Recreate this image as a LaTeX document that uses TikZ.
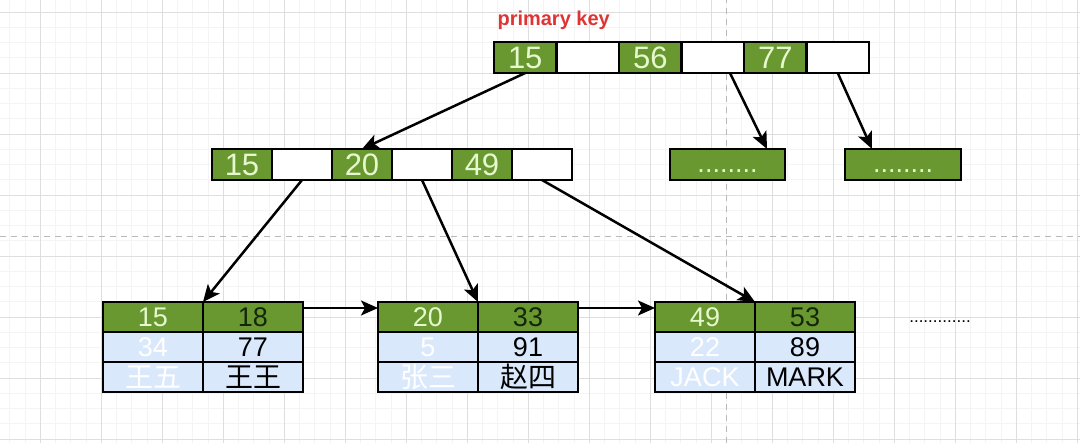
\documentclass[tikz,border=0pt]{standalone}
\usepackage{fontspec}
\setmainfont{Liberation Sans}
\newfontfamily\cjk{Noto Sans CJK SC}
\usetikzlibrary{positioning,arrows.meta}
\definecolor{keygreen}{RGB}{106,152,48}
\definecolor{rowblue}{RGB}{218,232,252}
\definecolor{keytext}{RGB}{230,248,205}
\definecolor{darkkey}{RGB}{20,38,12}
\definecolor{titlered}{RGB}{222,52,52}
\definecolor{gridgray}{RGB}{222,222,222}

\begin{document}
\begin{tikzpicture}[x=1pt,y=1pt,
    cell/.style={draw,line width=2.5pt,outer sep=0pt,minimum height=31pt,inner sep=0pt,
      font=\fontsize{31}{36}\selectfont},
    key/.style={cell,fill=keygreen,text=keytext},
    ptr/.style={cell,fill=white},
    dotbox/.style={cell,fill=keygreen,text=keytext,text height=18pt,text depth=2pt,
      font=\fontsize{27}{32}\selectfont},
    leaf/.style={draw,line width=2.5pt,outer sep=0pt,minimum width=100pt,minimum height=30pt,
      inner sep=0pt,font=\fontsize{27}{30}\selectfont},
    lkey/.style={leaf,fill=keygreen,text=keytext},
    rkey/.style={leaf,fill=keygreen,text=darkkey},
    lrow/.style={leaf,fill=rowblue,text=white},
    rrow/.style={leaf,fill=rowblue,text=black},
    hanzi/.style={font=\cjk\fontsize{28}{30}\selectfont},
    link/.style={line width=2.5pt,-{Stealth[length=17pt,width=15pt,inset=4pt]}}]
  \useasboundingbox (0,0) rectangle (1080,443);
  % background grid
  \begin{scope}
    \clip (0,0) rectangle (1080,443);
    \begin{scope}[shift={(40,4)}]
      \draw[gridgray!35,line width=0.5pt,step=15.25] (-40,-4) grid (1040,439);
      \draw[gridgray,line width=0.9pt,step=61] (-40,-4) grid (1040,439);
    \end{scope}
  \end{scope}
  \draw[gray!55,line width=1pt,dash pattern=on 6pt off 5pt] (726,0) -- (726,443);
  \draw[gray!55,line width=1pt,dash pattern=on 6pt off 5pt] (0,206) -- (1080,206);

  % root page
  \node[font=\bfseries\fontsize{20}{24}\selectfont,text=titlered,anchor=west] (title) at (494,423) {primary key};
  \begin{scope}[nodes={minimum width=62.5pt}]
    \node[key] (t15) at (525.25,385.5) {15};
    \node[ptr,right=0pt of t15] (tp1) {};
    \node[key,right=0pt of tp1] (t56) {56};
    \node[ptr,right=0pt of t56] (tp2) {};
    \node[key,right=0pt of tp2] (t77) {77};
    \node[ptr,right=0pt of t77] (tp3) {};
  \end{scope}

  % second level
  \begin{scope}[nodes={minimum width=60pt}]
    \node[key] (m15) at (242,278.5) {15};
    \node[ptr,right=0pt of m15] (mp1) {};
    \node[key,right=0pt of mp1] (m20) {20};
    \node[ptr,right=0pt of m20] (mp2) {};
    \node[key,right=0pt of mp2] (m49) {49};
    \node[ptr,right=0pt of m49] (mp3) {};
  \end{scope}
  \node[dotbox,minimum width=115pt] (dot1) at (727.5,278.5) {........};
  \node[dotbox,minimum width=116pt] (dot2) at (903,278.5) {........};

  % leaf pages
  \node[lkey] (l1a) at (153,126) {15};
  \node[rkey,right=0pt of l1a] (l1b) {18};
  \node[lrow,below=0pt of l1a] (l1c) {34};
  \node[rrow,right=0pt of l1c] (l1d) {77};
  \node[lrow,hanzi,below=0pt of l1c] (l1e) {王五};
  \node[rrow,hanzi,right=0pt of l1e] (l1f) {王王};

  \node[lkey] (l2a) at (428,126) {20};
  \node[rkey,right=0pt of l2a] (l2b) {33};
  \node[lrow,below=0pt of l2a] (l2c) {5};
  \node[rrow,right=0pt of l2c] (l2d) {91};
  \node[lrow,hanzi,below=0pt of l2c] (l2e) {张三};
  \node[rrow,hanzi,right=0pt of l2e] (l2f) {赵四};

  \node[lkey] (l3a) at (705,126) {49};
  \node[rkey,right=0pt of l3a] (l3b) {53};
  \node[lrow,below=0pt of l3a] (l3c) {22};
  \node[rrow,right=0pt of l3c] (l3d) {89};
  \node[lrow,below=0pt of l3c] (l3e) {JACK};
  \node[rrow,right=0pt of l3e] (l3f) {MARK};

  \node[font=\fontsize{17}{20}\selectfont] (more) at (940,121) {.............};

  % pointers
  \draw[link] (t15.south) -- (m20.north);
  \draw[link] ([xshift=-14pt]tp2.south east) -- ([xshift=-18pt]dot1.north east);
  \draw[link] (tp3.south) -- ([xshift=27pt]dot2.north west);
  \draw[link] (mp1.south) -- (l1a.north east);
  \draw[link] (mp2.south) -- (l2a.north east);
  \draw[link] (mp3.south) -- (l3a.north east);
  \draw[link] ([yshift=9pt]l1b.east) -- ([yshift=9pt]l2a.west);
  \draw[link] ([yshift=9pt]l2b.east) -- ([yshift=9pt]l3a.west);
\end{tikzpicture}
\end{document}
